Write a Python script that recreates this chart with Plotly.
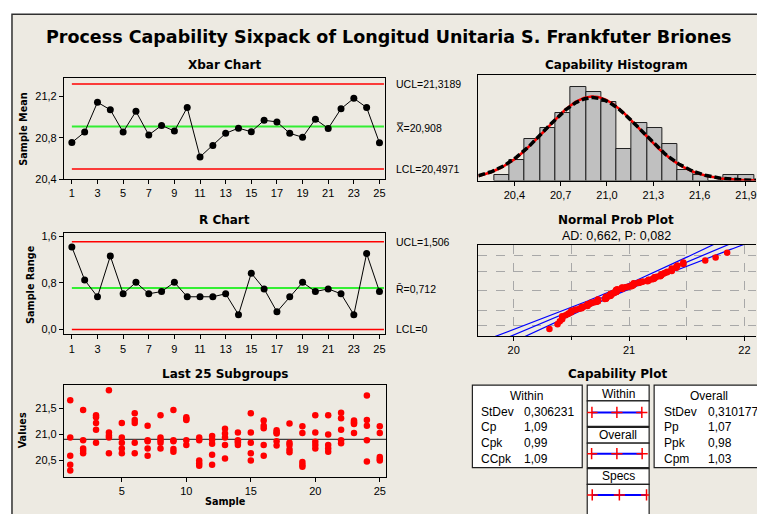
import math
from statistics import NormalDist
import plotly.graph_objects as go

W, H = 757, 514
FONT = "Liberation Sans, DejaVu Sans"
BOLD_FONT = "DejaVu Sans"
BG = "#EDEAE2"

# ---------------- data ----------------
subgroup_no = list(range(1, 26))
xbar = [20.754, 20.855, 21.143, 21.070, 20.855, 21.055, 20.827, 20.919, 20.865, 21.092,
        20.615, 20.726, 20.843, 20.893, 20.858, 20.969, 20.953, 20.843, 20.805, 20.979,
        20.890, 21.080, 21.181, 21.092, 20.751]
ranges = [1.415, 0.848, 0.561, 1.258, 0.612, 0.808, 0.612, 0.651, 0.808, 0.561,
          0.561, 0.561, 0.612, 0.253, 0.966, 0.696, 0.303, 0.561, 0.808, 0.651,
          0.696, 0.612, 0.253, 1.302, 0.651]
xbar_ucl, xbar_cl, xbar_lcl = 21.3189, 20.908, 20.4971
r_ucl, r_cl, r_lcl = 1.506, 0.712, 0.0

subgroup_values = [
    [21.66, 20.94, 20.59, 20.42, 20.31],
    [21.47, 20.89, 20.73, 20.69, 20.64],
    [21.37, 21.33, 21.22, 21.09, 20.84],
    [21.85, 21.04, 20.98, 20.94, 20.64],
    [21.22, 20.94, 20.84, 20.73, 20.64],
    [21.41, 21.28, 21.22, 20.84, 20.64],
    [21.17, 20.89, 20.87, 20.73, 20.59],
    [21.37, 20.94, 20.89, 20.84, 20.73],
    [21.47, 20.89, 20.87, 20.72, 20.67],
    [21.33, 21.30, 21.28, 20.89, 20.80],
    [20.94, 20.89, 20.50, 20.45, 20.40],
    [20.97, 20.90, 20.82, 20.61, 20.42],
    [21.11, 21.02, 20.94, 20.80, 20.54],
    [21.04, 20.89, 20.86, 20.84, 20.80],
    [21.41, 21.04, 20.84, 20.64, 20.50],
    [21.27, 21.17, 21.12, 20.80, 20.59],
    [21.08, 21.04, 21.02, 20.87, 20.79],
    [21.21, 20.84, 20.80, 20.71, 20.66],
    [21.16, 21.03, 20.47, 20.42, 20.38],
    [21.37, 21.04, 20.86, 20.80, 20.73],
    [21.37, 21.00, 20.80, 20.73, 20.67],
    [21.42, 21.31, 21.09, 20.89, 20.83],
    [21.27, 21.24, 21.22, 21.20, 21.03],
    [21.75, 21.28, 21.17, 20.89, 20.48],
    [21.16, 21.03, 20.57, 20.53, 20.50],
]

hist_bin_start = 20.27
hist_bin_width = 0.099
hist_counts = [1, 4, 8, 10, 13, 18, 17, 15, 6, 11, 10, 7, 2, 1, 0, 1, 1]

process_mean = 20.908
within_sd = 0.306231
overall_sd = 0.310177
LSL, TARGET, USL = 20.0, 21.0, 22.0
within_stats = [("StDev", 0.306231, 6), ("Cp", 1.09, 2), ("Cpk", 0.99, 2), ("CCpk", 1.09, 2)]
overall_stats = [("StDev", 0.310177, 6), ("Pp", 1.07, 2), ("Ppk", 0.98, 2), ("Cpm", 1.03, 2)]
ad_stat, ad_p = 0.662, 0.082
prob_grid_pct = [1, 10, 50, 90, 99]


def fmt(v, d):
    return f"{v:.{d}f}".replace(".", ",")


def xd(a, b):
    return [a / W, b / W]


def yd(top, bottom):
    return [1 - bottom / H, 1 - top / H]


def px(x):
    return x / W


def py(y):
    return 1 - y / H


nd = NormalDist()
all_vals = [v for g in subgroup_values for v in g]
N = len(all_vals)

fig = go.Figure()

# ---------------- Xbar chart ----------------
fig.add_trace(go.Scatter(x=subgroup_no, y=xbar, mode="lines+markers", xaxis="x", yaxis="y",
                         line=dict(color="black", width=1),
                         marker=dict(color="black", size=7), showlegend=False))
# ---------------- R chart ----------------
fig.add_trace(go.Scatter(x=subgroup_no, y=ranges, mode="lines+markers", xaxis="x2", yaxis="y2",
                         line=dict(color="black", width=1),
                         marker=dict(color="black", size=7), showlegend=False))
# ---------------- Last 25 subgroups ----------------
sx, sy = [], []
for i, g in zip(subgroup_no, subgroup_values):
    for v in g:
        sx.append(i)
        sy.append(v)
fig.add_trace(go.Scatter(x=sx, y=sy, mode="markers", xaxis="x3", yaxis="y3",
                         marker=dict(color="#FF0000", size=6.5), showlegend=False))

# ---------------- Histogram ----------------
centers = [hist_bin_start + hist_bin_width * (k + 0.5) for k in range(len(hist_counts))]
fig.add_trace(go.Bar(x=centers, y=hist_counts, width=hist_bin_width, xaxis="x4", yaxis="y4",
                     marker=dict(color="#C0C0C0", line=dict(color="#202020", width=1)),
                     showlegend=False))
x4_range = [20.167, 21.965]
gx = [x4_range[0] + (x4_range[1] - x4_range[0]) * k / 300 for k in range(301)]


def curve(sd):
    return [N * hist_bin_width * math.exp(-0.5 * ((x - process_mean) / sd) ** 2) / (sd * math.sqrt(2 * math.pi)) for x in gx]


fig.add_trace(go.Scatter(x=gx, y=curve(within_sd), mode="lines", xaxis="x4", yaxis="y4",
                         line=dict(color="#FF0000", width=2.5), showlegend=False))
fig.add_trace(go.Scatter(x=gx, y=curve(overall_sd), mode="lines", xaxis="x4", yaxis="y4",
                         line=dict(color="black", width=3.5, dash="7px,3px"), showlegend=False))

# ---------------- Normal probability plot ----------------
sv = sorted(all_vals)
zq = [nd.inv_cdf((i + 1 - 0.3) / (N + 0.4)) for i in range(N)]
zline = [-3.2 + 6.4 * k / 100 for k in range(101)]
fit = [process_mean + overall_sd * z for z in zline]
half = [1.96 * overall_sd * math.sqrt((1 + z * z / 2) / N) for z in zline]
for xs in (fit, [f - h for f, h in zip(fit, half)], [f + h for f, h in zip(fit, half)]):
    fig.add_trace(go.Scatter(x=xs, y=zline, mode="lines", xaxis="x5", yaxis="y5",
                             line=dict(color="#0000FF", width=1.2), showlegend=False))
fig.add_trace(go.Scatter(x=sv, y=zq, mode="markers", xaxis="x5", yaxis="y5",
                         marker=dict(color="#FF0000", size=6.5), showlegend=False))

# ---------------- Capability plot intervals ----------------
intervals = [
    [process_mean - 3 * within_sd, process_mean, process_mean + 3 * within_sd],
    [process_mean - 3 * overall_sd, process_mean, process_mean + 3 * overall_sd],
    [LSL, TARGET, USL],
]
for row, iv in enumerate(intervals):
    fig.add_trace(go.Scatter(x=iv, y=[row] * 3, mode="lines+markers", xaxis="x6", yaxis="y6",
                             line=dict(color="#0000FF", width=2),
                             marker=dict(symbol="cross-thin", size=8, color="#FF0000",
                                         line=dict(color="#FF0000", width=1.5)),
                             showlegend=False))

tickfont = dict(family=FONT, size=11, color="black")
base_ax = dict(showline=True, linecolor="black", linewidth=1, ticks="outside", ticklen=4,
               tickcolor="black", showgrid=False, zeroline=False, tickfont=tickfont)

layout = dict(
    width=W, height=H, margin=dict(l=0, r=0, t=0, b=0),
    paper_bgcolor="white", plot_bgcolor="white", separators=",.",
    font=dict(family=FONT, color="black"), showlegend=False, bargap=0,
    xaxis=dict(base_ax, domain=xd(64, 386), range=[0.38, 25.47], tickvals=subgroup_no[::2], mirror=True, anchor="y"),
    yaxis=dict(base_ax, domain=yd(76.7, 179.3), range=[20.40, 21.374], tickvals=[20.4, 20.8, 21.2],
               tickformat=".1f", mirror=True, anchor="x"),
    xaxis2=dict(base_ax, domain=xd(64, 386), range=[0.38, 25.47], tickvals=subgroup_no[::2], mirror=True, anchor="y2"),
    yaxis2=dict(base_ax, domain=yd(234, 337.3), range=[-0.084, 1.656], tickvals=[0.0, 0.8, 1.6],
                tickformat=".1f", mirror=True, anchor="x2"),
    xaxis3=dict(base_ax, domain=xd(64, 387), range=[0.51, 25.52], tickvals=[5, 10, 15, 20, 25], mirror=True, anchor="y3"),
    yaxis3=dict(base_ax, domain=yd(389, 482), range=[20.192, 21.947], tickvals=[20.5, 21.0, 21.5],
                tickformat=".1f", mirror=True, anchor="x3"),
    xaxis4=dict(base_ax, domain=xd(479, 757), range=x4_range, tickvals=[20.4, 20.7, 21.0, 21.3, 21.6, 21.9],
                tickformat=".1f", mirror=True, anchor="y4", ticklabeloverflow="allow"),
    yaxis4=dict(base_ax, domain=yd(73.3, 180.7), range=[0, 20.25], ticks="", showticklabels=False,
                mirror=False, anchor="x4"),
    xaxis5=dict(base_ax, domain=xd(479, 757), range=[19.694, 22.10], tickvals=[20, 21, 22],
                showgrid=True, gridcolor="#A8A8A8", griddash="dash", gridwidth=1,
                minor=dict(tickvals=[20.5, 21.5], showgrid=True, gridcolor="#A8A8A8", griddash="dash",
                           ticks="outside", ticklen=3, tickcolor="black"),
                mirror=True, anchor="y5", ticklabeloverflow="allow"),
    yaxis5=dict(base_ax, domain=yd(246, 339), range=[-3.0, 3.066],
                tickvals=[nd.inv_cdf(p / 100) for p in prob_grid_pct], ticks="", showticklabels=False,
                showgrid=True, gridcolor="#A8A8A8", griddash="dash", gridwidth=1, mirror=False, anchor="x5"),
    xaxis6=dict(domain=xd(588, 650), range=[19.816, 22.096], visible=False, anchor="y6"),
    yaxis6=dict(domain=yd(405, 514), range=[2.316, -0.279], visible=False, anchor="x6"),
)
fig.update_layout(**layout)

shapes = []
# outer frame and background
shapes.append(dict(type="rect", xref="paper", yref="paper", x0=px(12), x1=px(770), y0=py(11.5), y1=py(530),
                   fillcolor=BG, line=dict(color="#303030", width=1.5), layer="below"))
# control lines (from the first subgroup to the right edge of the plot)
for xr, yref, val, col, w in [("x", "y", xbar_ucl, "#FF0000", 1.5), ("x", "y", xbar_lcl, "#FF0000", 1.5),
                              ("x", "y", xbar_cl, "#33EE33", 2),
                              ("x2", "y2", r_ucl, "#FF0000", 1.5), ("x2", "y2", r_lcl, "#FF0000", 1.5),
                              ("x2", "y2", r_cl, "#33EE33", 2)]:
    shapes.append(dict(type="line", xref=xr, yref=yref, x0=subgroup_no[0], x1=subgroup_no[-1] + 0.35,
                       y0=val, y1=val, line=dict(color=col, width=w), layer="below"))
shapes.append(dict(type="line", xref="x3 domain", yref="y3", x0=0, x1=1, y0=xbar_cl, y1=xbar_cl,
                   line=dict(color="#404040", width=1.2), layer="below"))


def rect(x0, y0, x1, y1, w=1.2):
    shapes.append(dict(type="rect", xref="paper", yref="paper", x0=px(x0), x1=px(x1), y0=py(y0), y1=py(y1),
                       fillcolor="white", line=dict(color="#202020", width=w), layer="below"))


rect(473, 389, 583, 473)
rect(655, 389, 800, 473)
rect(588, 389, 650, 405)
rect(588, 405, 650, 431)
rect(588, 432, 650, 448)
rect(588, 448, 650, 473)
rect(588, 474, 650, 490)
rect(588, 490, 650, 530)
fig.update_layout(shapes=shapes)

ann = []


def text(x, y, s, size=11, bold=False, xanchor="center", angle=0, yref="paper", yval=None, yshift=0, family=FONT):
    ann.append(dict(x=px(x), y=(py(y) if yval is None else yval), xref="paper", yref=yref,
                    text=(f"<b>{s}</b>" if bold else s), showarrow=False, xanchor=xanchor, yanchor="middle",
                    textangle=angle, yshift=yshift, font=dict(family=family, size=size, color="black")))


text(390, 35, "Process Capability Sixpack of Longitud Unitaria S. Frankfuter Briones", size=17.5, bold=True,
     family=BOLD_FONT)
text(225, 63, "Xbar Chart", size=12, bold=True, family=BOLD_FONT)
text(225, 221, "R Chart", size=12, bold=True, family=BOLD_FONT)
text(225, 378, "Last 25 Subgroups", size=12, bold=True, family=BOLD_FONT)
text(617, 63, "Capability Histogram", size=12, bold=True, family=BOLD_FONT)
text(617, 221, "Normal Prob Plot", size=12, bold=True, family=BOLD_FONT)
text(617, 237, f"AD: {fmt(ad_stat, 3)}, P: {fmt(ad_p, 3)}", size=12.5)
text(618, 378, "Capability Plot", size=12, bold=True, family=BOLD_FONT)
text(24, 128, "Sample Mean", size=9.7, bold=True, angle=-90, family=BOLD_FONT)
text(31, 286, "Sample Range", size=9.7, bold=True, angle=-90, family=BOLD_FONT)
text(22, 435, "Values", size=9.7, bold=True, angle=-90, family=BOLD_FONT)
text(226, 507, "Sample", size=9.7, bold=True, family=BOLD_FONT)

# control limit labels
text(395, 0, f"UCL={fmt(xbar_ucl, 4)}", size=10.5, xanchor="left", yref="y", yval=xbar_ucl)
text(395, 0, f"X\u033F={fmt(xbar_cl, 3)}", size=10.5, xanchor="left", yref="y", yval=xbar_cl, yshift=-1)
text(395, 0, f"LCL={fmt(xbar_lcl, 4)}", size=10.5, xanchor="left", yref="y", yval=xbar_lcl)
text(395, 0, f"UCL={fmt(r_ucl, 3)}", size=10.5, xanchor="left", yref="y2", yval=r_ucl)
text(395, 0, f"R\u0304={fmt(r_cl, 3)}", size=10.5, xanchor="left", yref="y2", yval=r_cl, yshift=-1)
text(395, 0, f"LCL={fmt(r_lcl, 0)}", size=10.5, xanchor="left", yref="y2", yval=r_lcl)

# capability tables
text(527, 400, "Within", size=12)
text(710, 400, "Overall", size=12)
rows_y = [416, 432, 448, 464]
for (lab, v, d), yy in zip(within_stats, rows_y):
    text(480, yy, lab, size=12, xanchor="left")
    text(523, yy, fmt(v, d), size=12, xanchor="left")
for (lab, v, d), yy in zip(overall_stats, rows_y):
    text(663, yy, lab, size=12, xanchor="left")
    text(707, yy, fmt(v, d), size=12, xanchor="left")
text(619, 397.5, "Within", size=12)
text(619, 440, "Overall", size=12)
text(619, 481, "Specs", size=12)

fig.update_layout(annotations=ann)
fig.write_html("out.html")
